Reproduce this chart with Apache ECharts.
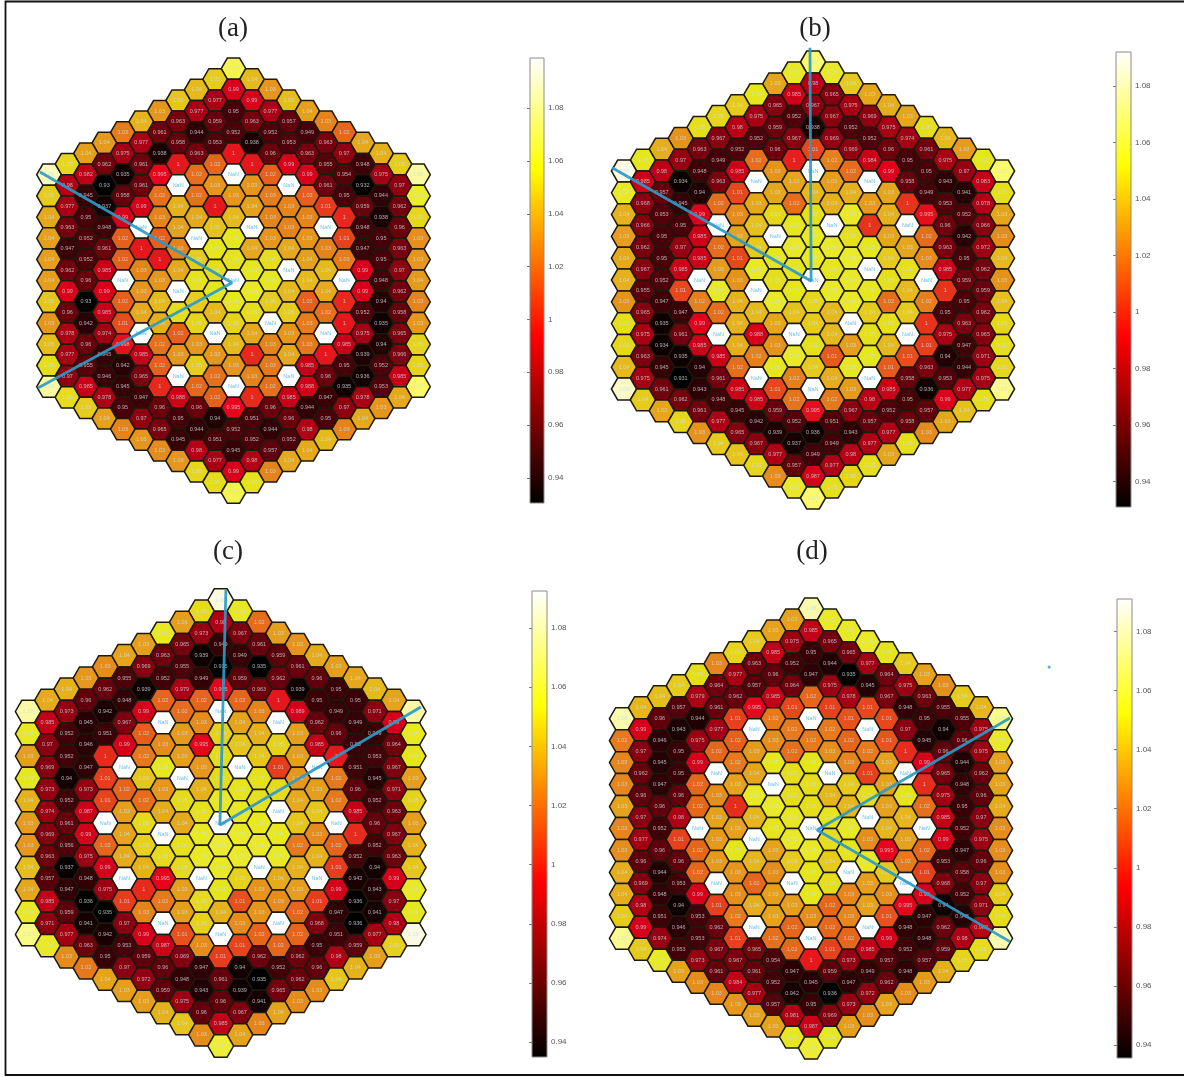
<!DOCTYPE html>
<html>
<head>
<meta charset="utf-8">
<style>html,body{margin:0;padding:0;background:#fff}#chart{width:1184px;height:1077px;filter:blur(0.5px)}</style>
<script src="https://cdn.jsdelivr.net/npm/echarts@6/dist/echarts.min.js"></script>
</head>
<body>
<div id="chart"></div>
<script>
// Values per hexagon, row by row from the top of each core map (null = NaN cell)
var valuesA = [
[1.07],
[1.05,1.045],
[1.045,.99,1.035],
[1.048,.977,.99,1.046],
[1.035,.977,.95,.977,1.038],
[1.043,.963,.959,.963,.957,1.03],
[1.028,.961,.944,.952,.952,.949,1.022],
[1.036,.977,.958,.953,.938,.953,.963,1.04],
[1.038,.975,.938,.963,1,.96,.963,.97,1.042],
[1.053,.962,.961,1,1.022,1,.99,.955,.948,1.05],
[1.09,.982,.935,.995,1.024,null,1.02,.99,.954,.975,1.085],
[.98,.93,.961,null,1.035,1.035,null,.961,.932,.97],
[1.05,.945,.958,1.025,1.025,1.035,1.028,1.02,.95,.944,1.062],
[.977,.937,.99,1.042,1,1.038,1.03,1.01,.959,.962],
[1.04,.95,.99,1.03,1.04,1.045,1.03,1.03,1.005,.938,1.053],
[.963,.948,null,1.038,1.047,null,1.03,null,.948,.96],
[1.038,.952,1.02,1.02,null,1.058,1.035,1.035,1.012,.95,1.033],
[.947,.961,1,1.03,1.057,1.04,1.04,1.03,.947,.963],
[1.037,.952,1.02,1,1.05,1.056,1.055,1.038,1.028,.95,1.035],
[.962,.985,1.03,1.04,1.055,1.058,null,1.045,.99,.97],
[1.037,.96,null,1.035,1.056,null,1.058,1.045,null,.948,1.036],
[.99,.99,1.035,null,1.057,1.06,1.045,1.04,.99,.962],
[1.048,.93,1.02,1.045,1.05,1.058,1.05,1.02,1.005,.94,1.03],
[.96,.985,1.04,1.055,1.045,1.055,1.05,1.025,.952,.958],
[1.035,.942,1.015,1.042,1.052,1.052,null,1.028,1,.935,1.035],
[.978,.974,null,1.02,null,1.04,1.035,null,.975,.965],
[1.046,.96,.998,1.025,1.035,1.045,1.03,1.027,.985,.94,1.052],
[.977,.945,.985,1.035,1.035,1.005,1.04,1,.939,.966],
[1.055,.955,.942,1.02,1.05,1.035,1.027,.985,.95,.952,1.052],
[.97,.946,.965,null,1.025,1.03,null,.96,.936,.985],
[1.085,.985,.945,1.005,1.022,null,1.025,.988,.935,.953,1.075],
[1.055,.978,.947,.988,1.02,1.005,.985,.947,.978,1.04],
[1.05,.95,.96,.96,.995,.96,.944,.97,1.035],
[1.038,.97,.95,.94,.951,.96,.95,1.04],
[1.03,.965,.944,.952,.944,.98,1.03],
[1.035,.945,.951,.952,.952,1.045],
[1.032,.98,.945,.957,1.04],
[1.035,.977,.98,1.04],
[1.053,.99,1.03],
[1.054,1.056],
[1.07]
];
var valuesB = [
[1.07],
[1.055,1.055],
[1.035,.98,1.045],
[1.052,.985,.965,1.035],
[1.045,.965,.967,.975,1.037],
[1.048,.975,.952,.967,.969,1.035],
[1.05,.98,.959,.938,.952,.975,1.05],
[1.03,.967,.952,.967,.969,.952,.974,1.04],
[1.037,.963,.952,.96,1.01,.969,.96,.961,1.032],
[1.052,.97,.949,1.02,1,1.025,.984,.95,.975,1.052],
[1.09,.98,.948,.985,1.03,null,1.02,.99,.95,.97,1.07],
[.985,.934,.963,null,1.035,1.033,null,.958,.943,.983],
[1.055,.957,.94,1.01,1.035,1.04,1.038,1.035,.949,.941,1.05],
[.968,.945,1.02,1.035,1.02,1.038,1.032,1.005,.953,.978],
[1.038,.953,.99,1.028,1.048,1.05,1.055,1.038,.995,.952,1.035],
[.966,.95,null,1.042,1.052,null,1.005,null,.96,.966],
[1.033,.95,.985,1.035,null,1.055,1.05,1.035,1.02,.942,1.028],
[.962,.97,1.02,1.045,1.055,1.055,1.052,1.035,.963,.972],
[1.036,.95,.985,1.01,1.052,1.055,1.056,1.045,1.028,.95,1.04],
[.967,.985,1.032,1.054,1.052,1.052,null,1.05,.985,.962],
[1.038,.952,null,1.03,1.05,null,1.055,1.05,null,.959,1.03],
[.955,1.01,1.055,null,1.052,1.055,1.053,1.04,1.005,.959],
[1.03,.947,1.025,1.038,1.055,1.048,1.055,1.02,1.025,.95,1.042],
[.965,.947,1.02,1.04,1.042,1.04,1.045,1.045,.95,.962],
[1.05,.935,.99,1.038,1.035,1.045,null,1.05,1.005,.963,1.048],
[.975,.961,null,.988,null,1.04,1.05,null,.975,.965],
[1.048,.934,.985,1.037,1.03,1.05,1.033,1.04,1.008,.947,1.05],
[.963,.935,.985,1.025,1.055,1.015,1.052,1.012,.94,.971],
[1.04,.945,.94,1.02,1.052,1.045,1.053,1.015,.963,.944,1.048],
[.975,.931,.961,null,1.025,1.037,null,.958,.953,.975],
[1.085,.961,.943,.985,1.01,null,1.032,.985,.936,.977,1.075],
[1.045,.962,.948,.985,1.022,1.023,.98,.95,.99,1.05],
[1.035,.961,.945,.959,.995,.967,.952,.957,1.042],
[1.048,.977,.942,.952,.951,.957,.958,1.035],
[1.03,.965,.939,.936,.943,.977,1.028],
[1.045,.967,.937,.949,.977,1.05],
[1.043,.977,.949,.98,1.035],
[1.048,.957,.977,1.05],
[1.028,.987,1.047],
[1.055,1.05],
[1.07]
];
var valuesC = [
[1.09],
[1.05,1.055],
[1.035,.98,1.022],
[1.055,.973,.967,1.035],
[1.035,.965,.949,.961,1.032],
[1.036,.963,.939,.949,.959,1.038],
[1.03,.969,.955,.935,.935,.961,1.035],
[1.033,.955,.952,.949,.959,.962,.96,1.037],
[1.04,.962,.939,.979,.995,.963,.939,.95,1.042],
[1.038,.96,.948,1.02,1.02,1.02,1,.95,.95,1.036],
[1.08,.973,.942,.99,1.022,null,1.028,.989,.949,.971,1.08],
[.985,.945,.967,null,1.03,1.036,null,.962,.949,.99],
[1.055,.952,.951,1.018,1.034,1.048,1.04,1.035,.96,.949,1.055],
[.97,.946,.99,1.03,.995,1.045,1.048,.985,.95,.964],
[1.035,.952,1.005,1.025,1.035,1.05,1.045,1.035,1,.953,1.053],
[.969,.947,null,1.054,1.033,null,1.01,null,.951,.967],
[1.054,.94,1.01,1.045,null,1.05,1.052,1.033,1.025,.945,1.035],
[.973,.973,1.02,1.033,1.04,1.053,1.05,1.035,.96,.971],
[1.04,.952,1.012,1.022,1.05,1.055,1.052,1.038,1.025,.952,1.048],
[.974,.987,1.035,1.038,1.052,1.055,null,1.045,.985,.963],
[1.034,.961,null,1.05,1.038,null,1.055,1.045,null,.96,1.035],
[.969,.99,1.036,null,1.056,1.057,1.055,1.03,1.005,.967],
[1.033,.956,1.02,1.048,1.052,1.058,1.056,1.025,1.02,.952,1.04],
[.963,.975,1.038,1.05,1.056,1.057,1.056,1.04,.952,.963],
[1.043,.937,.99,1.04,1.05,1.055,null,1.04,1.01,.94,1.045],
[.957,.948,null,.995,null,1.048,1.038,null,.942,.99],
[1.037,.947,.975,1.005,1.035,1.053,1.032,1.035,.99,.943,1.056],
[.985,.936,1.01,1.025,1.05,1.015,1.03,1.01,.936,.97],
[1.056,.959,.935,1.028,1.035,1.04,1.032,1.02,.947,.941,1.054],
[.971,.941,.97,null,1.048,1.03,null,.968,.936,.98],
[1.075,.977,.942,.99,1.015,null,1.02,1.02,.951,.977,1.09],
[1.056,.963,.953,.987,1.03,1.012,1.02,.95,.959,1.048],
[1.03,.95,.959,.969,1.01,.962,.962,.98,1.035],
[1.025,.97,.96,.947,.94,.952,.96,1.04],
[1.036,.972,.948,.961,.935,.962,1.045],
[1.035,.959,.943,.939,.965,1.03],
[1.035,.975,.96,.941,1.03],
[1.04,.96,.967,1.036],
[1.045,.985,1.028],
[1.03,1.036],
[1.06]
];
var valuesD = [
[1.08],
[1.035,1.055],
[1.035,.985,1.055],
[1.045,.975,.965,1.056],
[1.048,.985,.95,.965,1.052],
[1.028,.963,.952,.944,.977,1.045],
[1.05,.977,.96,.947,.935,.964,1.035],
[1.045,.964,.957,.964,.975,.945,.975,1.03],
[1.042,.979,.962,.985,1.02,.978,.967,.963,1.045],
[1.04,.957,.961,.995,1.012,1.01,1.012,.948,.955,1.04],
[1.08,.96,.944,1.01,1.025,null,1.015,1.012,.95,.955,1.075],
[.99,.943,.977,null,1.025,1.025,null,.97,.94,.975],
[1.025,.946,.975,1.018,1.03,1.025,1.02,1.015,.945,.96,1.055],
[.97,.95,1.02,1.033,1.022,1.03,1.025,1.005,.96,.975],
[1.028,.945,.99,1.025,1.053,1.052,1.028,1.035,.99,.944,1.035],
[.962,.95,null,1.036,1.05,null,1.01,null,.965,.962],
[1.028,.947,1.02,1.035,null,1.05,1.045,1.035,1.005,.948,1.035],
[.96,.96,1.03,1.055,1.05,1.04,1.05,1.052,.975,.96],
[1.035,.96,1.02,1.005,1.056,1.05,1.04,1.035,1.022,.95,1.037],
[.97,.98,1.035,1.04,1.053,1.052,null,1.04,.985,.97],
[1.028,.952,null,1.035,1.052,null,1.054,1.04,null,.952,1.03],
[.977,1.01,1.033,null,1.055,1.05,1.03,1.035,.99,.975],
[1.03,.96,1.02,1.052,1.035,1.055,1.052,.995,1.02,.947,1.03],
[.96,.96,1.033,1.04,1.045,1.045,1.054,1.025,.953,.96],
[1.038,.944,1.02,1.032,1.03,1.052,null,1.045,1.01,.958,1.03],
[.969,.953,null,1.02,null,1.05,1.034,null,.968,.97],
[1.038,.948,.99,1.03,1.034,1.053,1.028,1.03,.99,.952,1.045],
[.98,.94,1.01,1.038,1.034,1.02,1.035,.995,.94,.971],
[1.045,.951,.953,1.025,1.035,1.03,1.028,1.015,.947,.945,1.05],
[.99,.946,.962,null,1.02,1.02,null,.948,.962,.982],
[1.075,.974,.953,1.01,1.022,null,1.02,.99,.948,.98,1.08],
[1.045,.953,.967,.965,1.02,1.01,.985,.952,.959,1.05],
[1.055,.973,.967,.954,1,.973,.957,.957,1.048],
[1.035,.961,.961,.947,.959,.949,.948,1.038],
[1.03,.984,.952,.945,.947,.962,1.033],
[1.028,.977,.942,.936,.972,1.03],
[1.032,.957,.95,.973,1.035],
[1.035,.981,.969,1.03],
[1.035,.987,1.034],
[1.053,1.053],
[1.058]
];
// Blue traverse lines, in hexagon column / half-row units
var linesA = [[-10.49,-10.25],[-0.08,0.2],[-10.6,10.12]];
var linesB = [[-0.16,-21.3],[-0.1,0.1],[-10.63,-10.3]];
var linesC = [[0.27,-20.9],[-0.04,0.18],[10.4,-10.4]];
var linesD = [[10.53,-10.06],[0.32,0.14],[10.53,10.3]];
var strayPointD = [[12.6,-14.7]];
var panelTitles = ['(a)','(b)','(c)','(d)'];
var colorbarTicks = [0.94,0.96,0.98,1,1.02,1.04,1.06,1.08];
var rangeA = [0.9305,1.099];
var rangeB = [0.931,1.092];
var rangeC = [0.935,1.0925];
var rangeD = [0.9356,1.091];
// 'hot' colour map
var hotColors = ['#000000','#550000','#aa0000','#ff0000','#ff5500','#ffaa00','#ffff00','#ffff80','#ffffff'];

var panels = [
  {vals:valuesA, line:linesA, range:rangeA, cx:233.5, cy:280.7, sx:18.45, sy:10.6, bar:[530,58,14,445], title:[233,15]},
  {vals:valuesB, line:linesB, range:rangeB, cx:813, cy:280, sx:18.9, sy:10.9, bar:[1116,52,15,455], title:[815,15]},
  {vals:valuesC, line:linesC, range:rangeC, cx:220.7, cy:823, sx:19.25, sy:11.15, bar:[532,591,15,466], title:[228,538]},
  {vals:valuesD, line:linesD, range:rangeD, cx:811, cy:828.5, sx:18.9, sy:10.98, bar:[1117,599,15,459], title:[812,538]}
];

function toCells(rows){
  var out = [];
  rows.forEach(function(r, i){
    var k = i - 20, n = r.length;
    r.forEach(function(v, j){ out.push([2*j-(n-1), k, v]); });
  });
  return out;
}
// The scanned reference is a little duller than the pure colour bar; pale cells stay pale
function dull(col){
  var a = echarts.color.parse(col);
  var t = Math.min(1, a[2]/110);
  var f = 0.9 + 0.08*t;
  return 'rgb(' + Math.round(a[0]*f) + ',' + Math.round(a[1]*f) + ',' + Math.round(a[2]*(0.85+0.1*t) + 28*(a[0]/255)*(1-t)) + ')';
}
function hexItem(params, api){
  var c = api.value(0), k = api.value(1), v = api.value(2);
  var pts = [[c-2/3,k],[c-1/3,k-1],[c+1/3,k-1],[c+2/3,k],[c+1/3,k+1],[c-1/3,k+1]].map(function(p){return api.coord(p);});
  var ctr = api.coord([c,k]);
  var nan = isNaN(v);
  return {type:'group', children:[
    {type:'polygon', shape:{points:pts}, style:{fill: nan ? '#ffffff' : dull(api.visual('color')), stroke:'#1c1a0c', lineWidth:1.5}},
    {type:'text', z2:5, style:{x:ctr[0], y:ctr[1], text: nan ? 'NaN' : String(parseFloat(v.toPrecision(3))), align:'center', verticalAlign:'middle',
      fontSize:5.5, fontFamily:'Liberation Sans', fill: nan ? '#6fc3e3' : 'rgba(205,225,225,0.75)'}}
  ]};
}
function barItem(params, api){
  var a = api.coord([0, api.value(0)]), b = api.coord([1, api.value(1)]);
  var stops = hotColors.map(function(col,i){return {offset:i/(hotColors.length-1), color:col};});
  return {type:'rect', shape:{x:a[0], y:b[1], width:b[0]-a[0], height:a[1]-b[1]},
    style:{fill:new echarts.graphic.LinearGradient(0,1,0,0,stops), stroke:'#8a8a8a', lineWidth:1}};
}

var grid=[], xAxis=[], yAxis=[], series=[], visualMap=[], title=[];
panels.forEach(function(p,i){
  var xMax = i===3 ? 14 : 11;
  grid.push({left:p.cx-11*p.sx, width:(11+xMax)*p.sx, top:p.cy-22*p.sy, height:44*p.sy});
  xAxis.push({type:'value', gridIndex:i, min:-11, max:xMax, show:false, splitLine:{show:false}});
  yAxis.push({type:'value', gridIndex:i, min:-22, max:22, inverse:true, show:false, splitLine:{show:false}});
  series.push({type:'custom', name:panelTitles[i], xAxisIndex:i, yAxisIndex:i, coordinateSystem:'cartesian2d', clip:false,
    renderItem:hexItem, data:toCells(p.vals), encode:{x:0,y:1}, z:2, silent:true});
  visualMap.push({type:'continuous', show:false, seriesIndex:i, dimension:2, min:p.range[0], max:p.range[1], inRange:{color:hotColors}});
  title.push({text:panelTitles[i], left:p.title[0], top:p.title[1], textAlign:'center', padding:0,
    textStyle:{fontFamily:'Liberation Serif', fontSize:27, fontWeight:'normal', color:'#222'}});
});
panels.forEach(function(p,i){
  series.push({type:'line', xAxisIndex:i, yAxisIndex:i, data:p.line, symbol:'none', clip:false, z:5, silent:true,
    lineStyle:{color:'#2b9ac8', width:2.8, opacity:0.92}});
});
panels.forEach(function(p,i){
  var g = 4+i;
  grid.push({left:p.bar[0], top:p.bar[1], width:p.bar[2], height:p.bar[3]});
  xAxis.push({type:'value', gridIndex:g, min:0, max:1, show:false, splitLine:{show:false}});
  yAxis.push({type:'value', gridIndex:g, min:p.range[0], max:p.range[1], position:'right', splitLine:{show:false},
    axisLine:{show:false},
    axisTick:{show:true, inside:true, length:3, customValues:colorbarTicks, lineStyle:{color:'#777'}},
    axisLabel:{show:true, margin:4, fontSize:8, fontFamily:'Liberation Sans', color:'#555', customValues:colorbarTicks,
      formatter:function(v){return String(parseFloat(Number(v).toFixed(2)));}}});
  series.push({type:'custom', xAxisIndex:g, yAxisIndex:g, coordinateSystem:'cartesian2d', clip:false, silent:true, z:2,
    renderItem:barItem, data:[[p.range[0],p.range[1]]], encode:{y:[0,1]}});
});
series.push({type:'scatter', xAxisIndex:3, yAxisIndex:3, data:strayPointD, symbolSize:3, clip:false, silent:true, itemStyle:{color:'#2b9ac8'}});

var chart = echarts.init(document.getElementById('chart'));
chart.setOption({
  animation:false, backgroundColor:'#ffffff', title:title, grid:grid, xAxis:xAxis, yAxis:yAxis, visualMap:visualMap, series:series,
  graphic:[{type:'polyline', silent:true, shape:{points:[[1184,1.5],[5.5,1.5],[5.5,1075],[1184,1075]]}, style:{fill:'none', stroke:'#111', lineWidth:1.8}}]
});
</script>
</body>
</html>
